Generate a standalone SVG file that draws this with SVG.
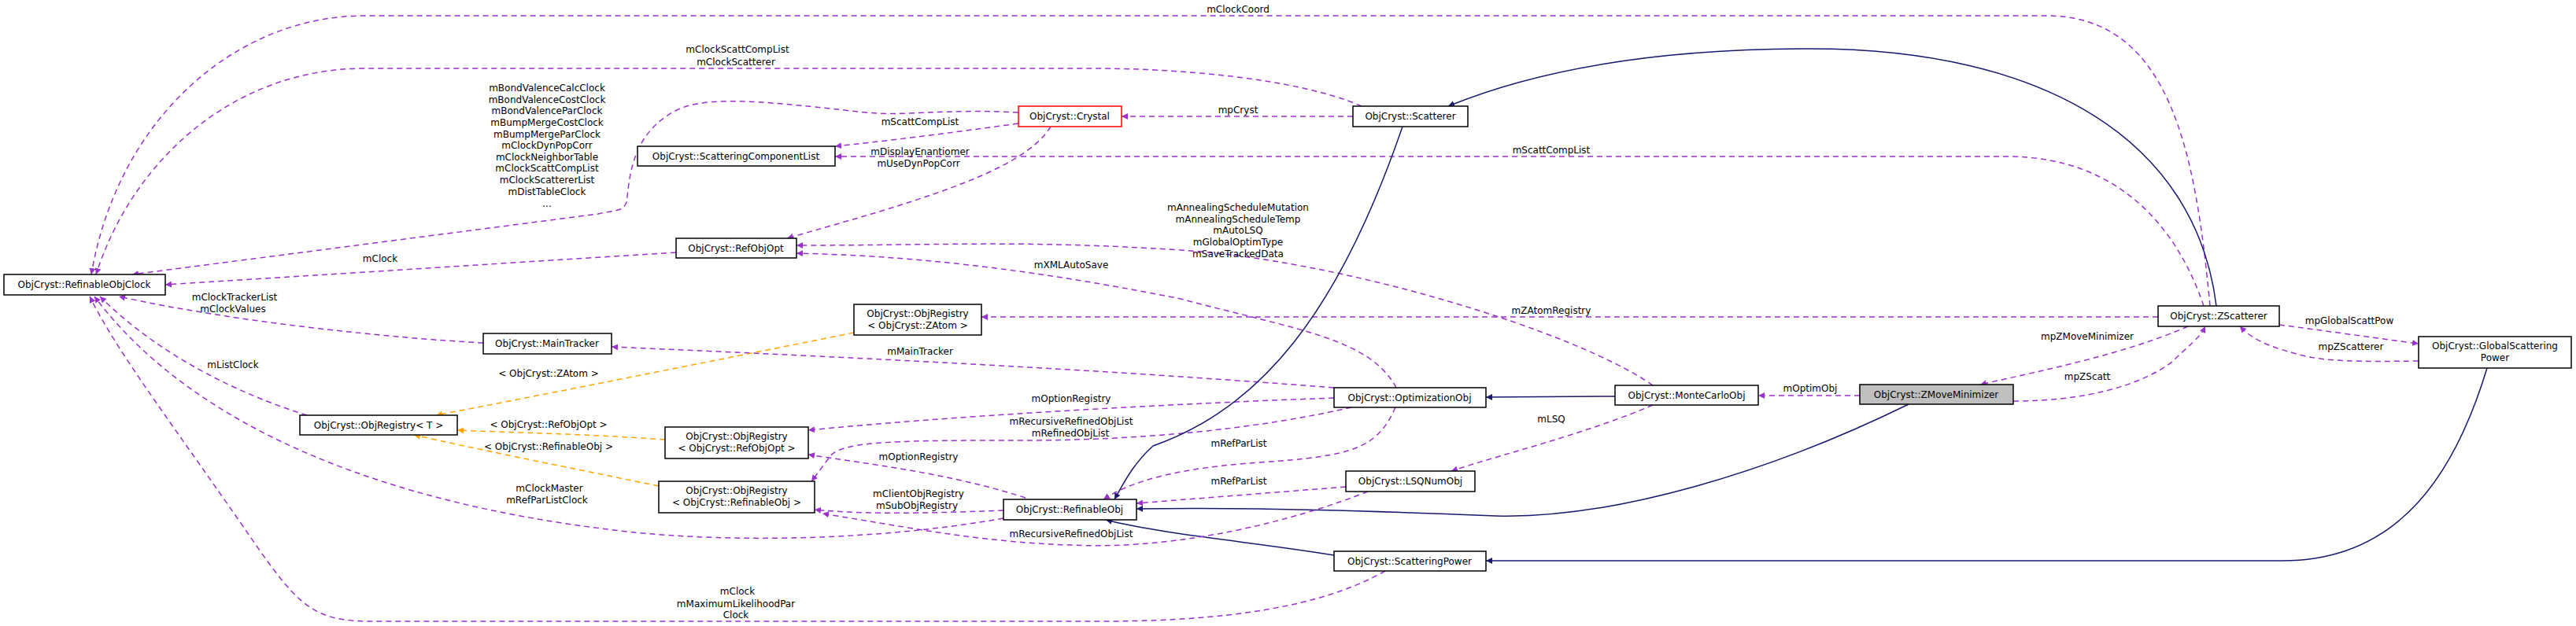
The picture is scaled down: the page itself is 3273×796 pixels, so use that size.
<svg xmlns="http://www.w3.org/2000/svg" width="3273" height="796" viewBox="0 0 3273 796">
<style>
text{font-family:"DejaVu Sans","Liberation Sans",sans-serif;font-size:12px;fill:#000;text-anchor:middle}
.n rect{fill:#fff;stroke:#000;stroke-width:1.5}
.e path{fill:none}
.p{stroke:#9a32cd;stroke-dasharray:7,5;stroke-width:1.5;marker-end:url(#mp)}
.i{stroke:#191970;stroke-width:1.5;marker-end:url(#mi)}
.o{stroke:#ffa500;stroke-dasharray:7,5;stroke-width:1.5;marker-end:url(#mo)}
</style>
<defs>
<marker id="mp" viewBox="0 0 10 10" refX="10" refY="5" markerWidth="8" markerHeight="8" orient="auto" markerUnits="userSpaceOnUse"><path d="M0,0 L10,5 L0,10 z" fill="#9a32cd"/></marker>
<marker id="mi" viewBox="0 0 10 10" refX="10" refY="5" markerWidth="8" markerHeight="8" orient="auto" markerUnits="userSpaceOnUse"><path d="M0,0 L10,5 L0,10 z" fill="#191970"/></marker>
<marker id="mo" viewBox="0 0 10 10" refX="10" refY="5" markerWidth="8" markerHeight="8" orient="auto" markerUnits="userSpaceOnUse"><path d="M0,0 L10,5 L0,10 z" fill="#ffa500"/></marker>
</defs>
<rect width="3273" height="796" fill="#fff"/>
<g id="edges" class="e">
<path class="p" d="M2808,389 C2790,200 2760,20 2600,20 L463,20 C300,20 150,150 116,349"/>
<path class="p" d="M1730,135 C1650,100 1500,87 1390,87 L463,87 C300,87 170,200 122,349"/>
<path class="p" d="M1719,148 L1425,148"/>
<path class="p" d="M1294,157 C1200,170 1120,180 1061,186"/>
<path class="p" d="M2800,389 C2770,300 2700,199 2550,199 L1061,199"/>
<path class="p" d="M1335,161 C1300,220 1150,260 1000,303"/>
<path class="p" d="M1294,143 C1200,138 1150,148 1100,143 C980,130 900,120 860,140 C800,170 800,230 796,257 C792,270 779,267 760,272 L168,349"/>
<path class="p" d="M859,321 L210,362"/>
<path class="p" d="M614,436 C500,430 300,410 151,377"/>
<path class="p" d="M390,528 C300,500 200,450 127,377"/>
<path class="p" d="M1275,659 C1100,690 900,690 772,673 C500,640 250,550 120,377"/>
<path class="p" d="M1760,726 C1700,760 1600,790 1400,790 L470,790 C400,790 380,770 330,700 C220,540 150,450 114,377"/>
<path class="p" d="M2558,510 C2650,510 2720,490 2760,460 C2780,440 2795,430 2802,415"/>
<path class="p" d="M2780,415 C2700,450 2600,470 2516,489"/>
<path class="p" d="M2363,503 L2234,503"/>
<path class="p" d="M2896,413 C2950,420 3020,430 3073,437"/>
<path class="p" d="M3073,459 C3000,460 2950,460 2918,450 C2880,440 2860,430 2846,415"/>
<path class="i" d="M2816,389 C2790,180 2600,62 2300,62 C2100,62 1950,90 1840,135"/>
<path class="p" d="M2742,403 L1247,403"/>
<path class="i" d="M2052,504 L1888,505"/>
<path class="p" d="M2100,490 C2000,420 1700,330 1500,318 C1300,305 1200,312 1012,312"/>
<path class="p" d="M1774,493 C1740,430 1650,420 1500,380 C1300,340 1150,325 1012,322"/>
<path class="p" d="M1695,493 C1400,470 1100,455 777,441"/>
<path class="p" d="M1695,506 C1450,515 1200,530 1027,547"/>
<path class="p" d="M1717,518 C1600,545 1450,560 1300,560 C1150,560 1070,560 1055,580 L1031,612"/>
<path class="p" d="M1773,518 C1750,570 1720,580 1600,588 C1500,595 1440,610 1402,635"/>
<path class="p" d="M1710,619 L1444,640"/>
<path class="p" d="M2100,515 C2020,550 1900,580 1844,599"/>
<path class="i" d="M2425,514 C2250,600 2050,660 1900,656 C1750,650 1600,645 1444,647"/>
<path class="i" d="M1695,706 C1600,690 1480,680 1405,661"/>
<path class="i" d="M3160,468 C3120,600 3050,713 2900,713 L1888,713"/>
<path class="p" d="M1303,633 C1200,600 1100,590 1027,578"/>
<path class="p" d="M1275,649 C1200,652 1100,655 1035,648"/>
<path class="p" d="M1738,625 C1650,660 1500,700 1361,693 C1250,690 1150,670 1045,653"/>
<path class="i" d="M1782,161 C1700,400 1600,520 1465,567 C1440,590 1430,610 1416,635"/>
<path class="o" d="M1085,423 C900,460 700,500 554,528"/>
<path class="o" d="M845,559 C750,552 650,550 581,547"/>
<path class="o" d="M837,618 C700,590 600,570 526,553"/>
</g>
<g id="labels">
<text x="1573" y="16">mClockCoord</text>
<text x="937" y="67">mClockScattCompList</text>
<text x="935" y="83">mClockScatterer</text>
<text x="695" y="116">mBondValenceCalcClock</text>
<text x="695" y="131">mBondValenceCostClock</text>
<text x="695" y="145">mBondValenceParClock</text>
<text x="695" y="160">mBumpMergeCostClock</text>
<text x="695" y="175">mBumpMergeParClock</text>
<text x="695" y="189">mClockDynPopCorr</text>
<text x="695" y="204">mClockNeighborTable</text>
<text x="695" y="218">mClockScattCompList</text>
<text x="695" y="233">mClockScattererList</text>
<text x="695" y="248">mDistTableClock</text>
<text x="695" y="263">...</text>
<text x="1573" y="144">mpCryst</text>
<text x="1169" y="159">mScattCompList</text>
<text x="1169" y="197">mDisplayEnantiomer</text>
<text x="1167" y="212">mUseDynPopCorr</text>
<text x="1971" y="195">mScattCompList</text>
<text x="1573" y="268">mAnnealingScheduleMutation</text>
<text x="1573" y="283">mAnnealingScheduleTemp</text>
<text x="1573" y="297">mAutoLSQ</text>
<text x="1573" y="312">mGlobalOptimType</text>
<text x="1573" y="327">mSaveTrackedData</text>
<text x="1361" y="341">mXMLAutoSave</text>
<text x="1971" y="399">mZAtomRegistry</text>
<text x="483" y="333">mClock</text>
<text x="298" y="382">mClockTrackerList</text>
<text x="296" y="397">mClockValues</text>
<text x="296" y="468">mListClock</text>
<text x="697" y="479">&lt; ObjCryst::ZAtom &gt;</text>
<text x="697" y="544">&lt; ObjCryst::RefObjOpt &gt;</text>
<text x="697" y="572">&lt; ObjCryst::RefinableObj &gt;</text>
<text x="698" y="625">mClockMaster</text>
<text x="695" y="640">mRefParListClock</text>
<text x="937" y="756">mClock</text>
<text x="935" y="772">mMaximumLikelihoodPar</text>
<text x="935" y="786">Clock</text>
<text x="1169" y="451">mMainTracker</text>
<text x="1361" y="511">mOptionRegistry</text>
<text x="1361" y="540">mRecursiveRefinedObjList</text>
<text x="1360" y="555">mRefinedObjList</text>
<text x="1574" y="568">mRefParList</text>
<text x="1971" y="537">mLSQ</text>
<text x="1167" y="585">mOptionRegistry</text>
<text x="1574" y="616">mRefParList</text>
<text x="1167" y="632">mClientObjRegistry</text>
<text x="1165" y="647">mSubObjRegistry</text>
<text x="1361" y="683">mRecursiveRefinedObjList</text>
<text x="2985" y="412">mpGlobalScattPow</text>
<text x="2987" y="445">mpZScatterer</text>
<text x="2652" y="432">mpZMoveMinimizer</text>
<text x="2652" y="483">mpZScatt</text>
<text x="2300" y="498">mOptimObj</text>
</g>
<g id="n_clock" class="n"><rect x="5" y="349" width="205" height="26"/><text x="107" y="366">ObjCryst::RefinableObjClock</text></g>
<g id="n_scl" class="n"><rect x="810" y="186" width="251" height="25"/><text x="935" y="203">ObjCryst::ScatteringComponentList</text></g>
<g id="n_refobjopt" class="n"><rect x="859" y="303" width="153" height="25"/><text x="935" y="320">ObjCryst::RefObjOpt</text></g>
<g id="n_maintracker" class="n"><rect x="614" y="424" width="163" height="26"/><text x="695" y="441">ObjCryst::MainTracker</text></g>
<g id="n_objregT" class="n"><rect x="381" y="528" width="200" height="25"/><text x="481" y="545">ObjCryst::ObjRegistry&lt; T &gt;</text></g>
<g id="n_objregROO" class="n"><rect x="845" y="543" width="182" height="40"/><text x="936" y="559">ObjCryst::ObjRegistry</text><text x="936" y="574">&lt; ObjCryst::RefObjOpt &gt;</text></g>
<g id="n_objregRO" class="n"><rect x="837" y="612" width="198" height="40"/><text x="936" y="628">ObjCryst::ObjRegistry</text><text x="936" y="643">&lt; ObjCryst::RefinableObj &gt;</text></g>
<g id="n_crystal" class="n"><rect x="1294" y="135" width="131" height="26" style="stroke:#ff0000"/><text x="1359" y="152">ObjCryst::Crystal</text></g>
<g id="n_scatterer" class="n"><rect x="1719" y="135" width="146" height="26"/><text x="1792" y="152">ObjCryst::Scatterer</text></g>
<g id="n_objregZA" class="n"><rect x="1085" y="387" width="162" height="39"/><text x="1166" y="403">ObjCryst::ObjRegistry</text><text x="1166" y="418">&lt; ObjCryst::ZAtom &gt;</text></g>
<g id="n_optim" class="n"><rect x="1695" y="493" width="193" height="25"/><text x="1791" y="510">ObjCryst::OptimizationObj</text></g>
<g id="n_montecarlo" class="n"><rect x="2052" y="490" width="182" height="25"/><text x="2143" y="507">ObjCryst::MonteCarloObj</text></g>
<g id="n_lsq" class="n"><rect x="1710" y="599" width="164" height="26"/><text x="1792" y="616">ObjCryst::LSQNumObj</text></g>
<g id="n_refinableobj" class="n"><rect x="1275" y="635" width="169" height="26"/><text x="1359" y="652">ObjCryst::RefinableObj</text></g>
<g id="n_scattpow" class="n"><rect x="1695" y="701" width="193" height="25"/><text x="1791" y="718">ObjCryst::ScatteringPower</text></g>
<g id="n_zscatterer" class="n"><rect x="2742" y="389" width="154" height="26"/><text x="2819" y="406">ObjCryst::ZScatterer</text></g>
<g id="n_gsp" class="n"><rect x="3073" y="428" width="194" height="40"/><text x="3170" y="444">ObjCryst::GlobalScattering</text><text x="3170" y="459">Power</text></g>
<g id="n_zmm" class="n"><rect x="2363" y="489" width="195" height="25" style="fill:#bfbfbf"/><text x="2460" y="506">ObjCryst::ZMoveMinimizer</text></g>
</svg>
